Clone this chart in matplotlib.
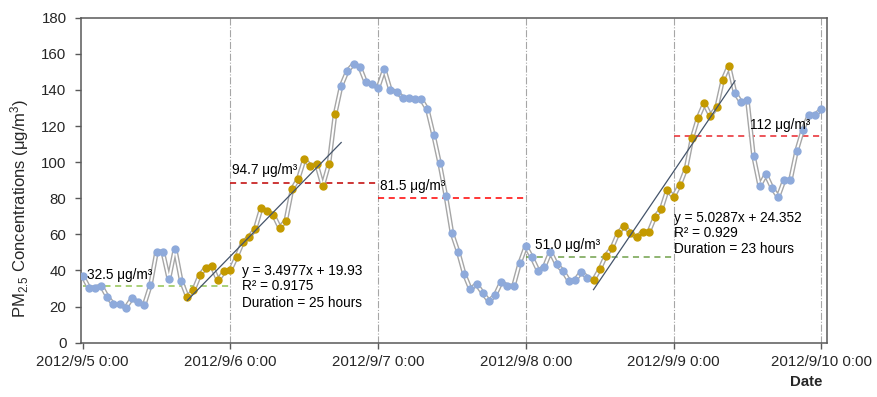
import matplotlib
matplotlib.use("Agg")
import matplotlib.pyplot as plt
import numpy as np

plt.rcParams["font.family"] = ["Liberation Sans", "DejaVu Sans"]
plt.rcParams["mathtext.fontset"] = "custom"
plt.rcParams["mathtext.rm"] = "Liberation Sans"
plt.rcParams["mathtext.it"] = "Liberation Sans:italic"

# hourly PM2.5, 2012/9/5 0:00 .. 2012/9/10 0:00
PM25 = [
    36.9, 30.5, 30.5, 31.6, 25.5, 21.2, 21.2, 19.4, 24.6, 22.4, 21.0, 31.8,
    50.4, 50.4, 35.1, 52.1, 34.3, 25.3, 29.0, 37.3, 41.6, 42.3, 34.5, 39.5,
    40.2, 47.6, 55.6, 58.4, 62.8, 74.4, 72.9, 70.7, 63.7, 67.6, 84.9, 90.6,
    101.5, 98.0, 98.8, 86.8, 98.9, 126.5, 142.3, 150.4, 154.3, 152.8, 144.2, 143.2,
    141.2, 151.5, 139.9, 139.0, 135.7, 135.3, 134.8, 134.8, 129.2, 115.0, 99.3, 81.4,
    60.6, 50.4, 38.0, 29.6, 32.4, 27.5, 23.1, 26.2, 33.5, 31.6, 31.4, 44.0,
    53.4, 47.2, 39.9, 42.0, 50.4, 43.4, 39.9, 34.4, 34.5, 39.2, 36.1, 34.7,
    40.6, 48.2, 52.6, 60.6, 64.8, 60.6, 58.4, 61.5, 61.5, 69.8, 73.9, 84.6,
    80.8, 87.3, 96.0, 113.2, 124.6, 132.5, 125.7, 130.3, 145.5, 153.4, 138.4, 133.1,
    134.4, 103.4, 86.8, 93.2, 85.8, 80.8, 90.1, 90.1, 106.3, 117.8, 126.1, 126.1,
    129.2,
]
HOURS = np.arange(len(PM25))

# rising episodes (first hour, last hour) and their fitted trends
RISES = [(17, 41), (83, 105)]
SLOPES = [3.4977, 5.0287]
INTERCEPTS = [19.93, 24.352]
EQ_TEXT = [
    ["y = 3.4977x + 19.93", "R² = 0.9175", "Duration = 25 hours"],
    ["y = 5.0287x + 24.352", "R² = 0.929", "Duration = 23 hours"],
]

# daily mean lines
DAY_LEVELS = [31.4, 88.6, 80.1, 47.3, 114.4]
DAY_LABELS = ["32.5 μg/m³", "94.7 μg/m³", "81.5 μg/m³", "51.0 μg/m³", "112 μg/m³"]
DAY_COLORS = ["#92c353", "#c00000", "#ff0000", "#70a04a", "#e8262c"]

DAY_TICKS = [0, 24, 48, 72, 96, 120]
DAY_TICKLABELS = ["2012/9/5 0:00", "2012/9/6 0:00", "2012/9/7 0:00",
                  "2012/9/8 0:00", "2012/9/9 0:00", "2012/9/10 0:00"]

BLUE = "#8eaadb"
GOLD = "#c49a00"
GREY = "#595959"

fig = plt.figure(figsize=(8.77, 3.97), dpi=100)
ax = fig.add_axes([0.0918, 0.1368, 0.8509, 0.8186])

# day separators
for d in DAY_TICKS[1:]:
    ax.axvline(d, color="#a6a6a6", lw=0.8, ls="-.", zorder=1)

# daily mean lines + labels
label_pos = [(0.7, 35.0), (24.3, 93.2), (48.3, 84.5), (73.5, 51.9), (108.5, 118.2)]
for i, (lvl, lab, col) in enumerate(zip(DAY_LEVELS, DAY_LABELS, DAY_COLORS)):
    ax.plot([DAY_TICKS[i], DAY_TICKS[i + 1]], [lvl, lvl], color=col, lw=1.1,
            ls=(0, (4, 3)), zorder=2)
    ax.text(*label_pos[i], lab, fontsize=9.8, va="baseline", ha="left", zorder=6)

# double grey connecting line
ax.plot(HOURS, PM25, color="#a6a6a6", lw=3.4, zorder=3)
ax.plot(HOURS, PM25, color="white", lw=1.4, zorder=3)

# markers
is_rise = np.zeros(len(PM25), dtype=bool)
for a, b in RISES:
    is_rise[a:b + 1] = True
vals = np.array(PM25)
ax.plot(HOURS[~is_rise], vals[~is_rise], "o", color=BLUE, ms=5.0, zorder=4)
ax.plot(HOURS[is_rise], vals[is_rise], "o", color=GOLD, ms=5.0, zorder=4)

# trend lines (x counted from 1 at the start of each rise, one period forward)
eq_pos = [(25.9, [37.5, 29.2, 19.6]), (96.1, [67.0, 58.4, 49.5])]
for (a, b), m, c, lines, (ex, eys) in zip(RISES, SLOPES, INTERCEPTS, EQ_TEXT, eq_pos):
    n = b - a + 1
    xs = np.array([1, n + 1])
    ax.plot(a + xs - 1, m * xs + c, color="#44546a", lw=0.9, zorder=5)
    for t, ey in zip(lines, eys):
        ax.text(ex, ey, t, fontsize=9.8, va="baseline", ha="left", zorder=6)

ax.set_xlim(-0.36, 120.9)
ax.set_ylim(0, 180)
ax.set_yticks(range(0, 181, 20))
ax.set_xticks(DAY_TICKS)
ax.set_xticklabels(DAY_TICKLABELS)
ax.tick_params(axis="both", labelsize=10.8, colors=GREY, labelcolor="#262626",
               length=4, width=1.0, direction="out")
ax.tick_params(axis="y", pad=6)
ax.tick_params(axis="x", pad=5)
for s in ax.spines.values():
    s.set_color(GREY)
    s.set_linewidth(1.1)

fig.text(20 / 877, 1 - 208 / 397, "PM$_{2.5}$ Concentrations (μg/m$^3$)",
         rotation=90, ha="center", va="center", fontsize=12, color="#262626")
fig.text(806 / 877, 1 - 382 / 397, "Date", ha="center", va="center",
         fontsize=10.8, fontweight="bold", color="#262626")

fig.savefig("out.png", dpi=100)
